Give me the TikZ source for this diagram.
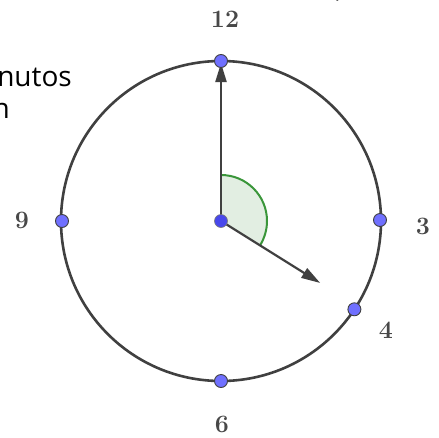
\documentclass[tikz,border=0pt]{standalone}
\usepackage{fontspec}
\newfontfamily\osans{Open Sans}
\usetikzlibrary{arrows.meta,calc}
\definecolor{ringgray}{RGB}{64,64,64}
\definecolor{ptblue}{RGB}{112,112,255}
\definecolor{cblue}{RGB}{72,72,235}
\definecolor{secfill}{RGB}{226,238,226}
\definecolor{secline}{RGB}{58,150,58}
\definecolor{lblgray}{RGB}{72,72,72}
\tikzset{
  ring/.style={draw=ringgray,line width=2.6pt},
  hand/.style={draw=ringgray,line width=2.2pt,-{Triangle[length=19pt,width=11pt]}},
  hourpt/.style={circle,fill=ptblue,draw=ringgray,line width=0.9pt,inner sep=0pt,minimum size=13pt},
  ctrpt/.style={circle,fill=cblue,draw=ringgray!70,line width=0.6pt,inner sep=0pt,minimum size=13pt},
  num/.style={text=lblgray,font=\bfseries\fontsize{25}{25}\selectfont,inner sep=0pt},
  sidetext/.style={font=\osans\fontsize{28}{28}\selectfont,inner sep=0pt,anchor=base east}
}
\begin{document}
\begin{tikzpicture}[x=1pt,y=1pt]
\useasboundingbox (0,0) rectangle (439,-437);
\clip (0,0) rectangle (439,-437);
\coordinate (c) at (221,-221);
\coordinate (c12) at (221,-61);
\coordinate (c3) at (380,-220);
\coordinate (c6) at (221,-381);
\coordinate (c9) at (62,-221);
\coordinate (c4) at (354.4,-309.3);
\coordinate (tipm) at (221,-63);
\coordinate (tiph) at ($(c)+(-32:117)$);
% sector
\fill[secfill] (c) -- ++(90:46) arc[start angle=90,end angle=-32,radius=46] -- cycle;
\draw[secline,line width=2pt] (c) ++(90:46) arc[start angle=90,end angle=-32,radius=46];
% ring
\draw[ring] (c) circle[radius=160];
% hands
\draw[hand] (c) -- (tipm);
\draw[hand] (c) -- (tiph);
% points
\node[hourpt] (p12) at (c12) {};
\node[hourpt] (p3) at (c3) {};
\node[hourpt] (p6) at (c6) {};
\node[hourpt] (p9) at (c9) {};
\node[hourpt] (p4) at (c4) {};
\node[ctrpt] (pc) at (c) {};
% labels
\node[num] (l12) at (225,-19) {12};
\node[num] (l3) at (423,-226) {3};
\node[num] (l9) at (22,-220) {9};
\node[num] (l6) at (222,-424) {6};
\node[num] (l4) at (386,-330) {4};
% side text
\node[sidetext] (t1) at (72,-86) {minutos};
\node[sidetext] (t2) at (10,-118) {n};
\node[font=\osans\fontsize{28}{28}\selectfont,inner sep=0pt,anchor=base] (t3) at (339,3) {,};
\end{tikzpicture}
\end{document}
